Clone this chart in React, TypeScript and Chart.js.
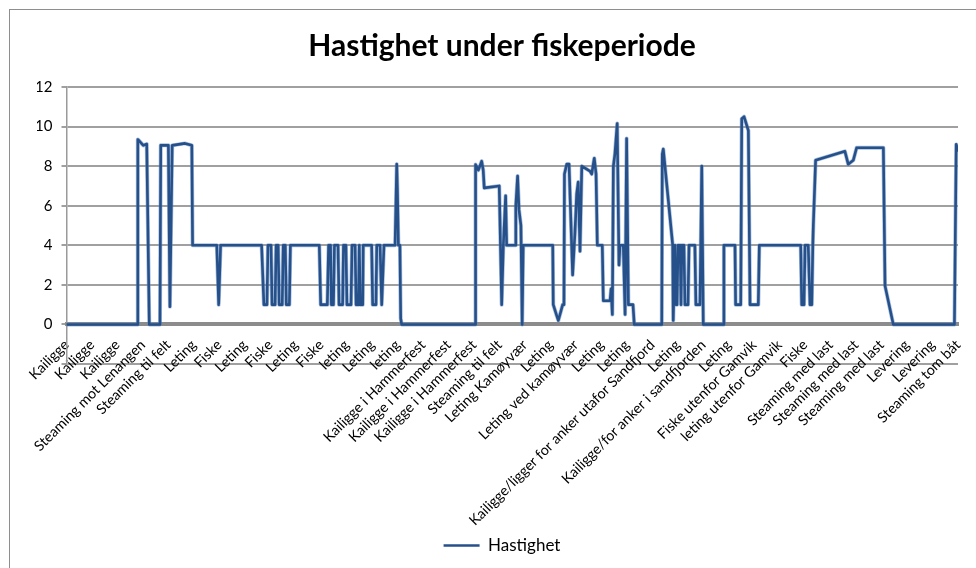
import { useEffect, useRef } from 'react';
import { Chart, registerables } from 'chart.js';

Chart.register(...registerables);

const FONT = 'Lato, "Open Sans", sans-serif';

const chartTitle = 'Hastighet under fiskeperiode';
const seriesName = 'Hastighet';

// Activity label shown every 10 samples along the x axis
const tickLabels = [
  'Kailigge', 'Kailigge', 'Kailigge', 'Steaming mot Lenangen', 'Steaming til felt',
  'Leting', 'Fiske', 'Leting', 'Fiske', 'Leting', 'Fiske', 'leting', 'Leting', 'leting',
  'Kailigge i Hammerfest', 'Kailigge i Hammerfest', 'Kailigge i Hammerfest',
  'Steaming til felt', 'Leting Kamøyvær', 'Leting', 'Leting ved kamøyvær', 'Leting', 'Leting',
  'Kailigge/ligger for anker utafor Sandfjord', 'Leting', 'Kailigge/for anker i sandfjorden',
  'Leting', 'Fiske utenfor Gamvik', 'leting utenfor Gamvik', 'Fiske',
  'Steaming med last', 'Steaming med last', 'Steaming med last',
  'Levering', 'Levering', 'Steaming tom båt',
];

const xMin = 0;
const xMax = 350;
const xStep = 10;

const yMin = -2;
const yMax = 12;
const yStep = 2;

// Sample position (row) of each recorded point
const sampleIndex = [
  0, 27.8, 28.0, 30.15, 31.5, 32.5, 36.7, 37.0, 40.0, 40.6, 41.5, 46.5, 49.2, 49.5, 59.0, 59.75, 60.5, 76.6,
  77.5, 78.7, 79.1, 80.3, 80.7, 81.9, 82.3, 83.1, 83.5, 84.7, 85.1, 85.9, 86.3, 87.5, 87.9,
  99.25, 99.8, 102.4, 102.9,
  103.65, 104.0, 104.8, 105.2, 106.6, 107.0, 108.4, 108.75, 109.7, 110.1, 111.7, 112.1, 113.3, 113.7, 114.6, 114.95, 115.15, 115.35, 116.3, 116.5,
  119.8, 120.2, 121.5, 121.8, 123.1, 123.75, 124.65, 129.0, 129.65, 129.9, 130.3, 130.9, 131.2, 131.6,
  160.4, 160.6, 161.7, 163.0, 163.6, 164.0, 169.9, 170.85, 171.5, 172.4, 172.8, 176.1, 176.4, 177.1, 177.65, 178.4, 178.9, 179.3,
  190.9, 191.1, 192.45, 193.1, 194.8, 195.3, 195.5, 196.4, 197.3, 198.7, 199.6, 200.3, 200.9, 201.6, 202.3, 205.5, 206.2, 207.2, 207.9, 208.4,
  210.35, 210.75, 213.4, 213.8, 214.3, 214.7, 215.3, 216.2, 216.9, 217.3, 218.6, 219.3, 219.9, 220.6, 222.4, 222.9,
  233.7, 233.9, 234.3, 238.0, 238.2, 238.9, 239.3, 239.7, 240.1, 240.9, 241.25, 241.6, 242.4, 242.8, 244.0, 244.4, 246.7, 247.1, 248.7, 249.4, 250.0,
  257.9, 258.1, 262.45, 262.7, 264.7, 265.1, 266.0, 267.7, 268.35, 271.6, 272.0,
  288.25, 288.65, 289.55, 289.95, 291.2, 291.9, 292.6, 293.0, 293.2, 294.1,
  305.6, 306.9, 308.9, 310.2, 320.7, 321.35, 324.6, 348.6, 349.3, 350,
];

// Speed (knots) at each sample above
const speed = [
  0, 0, 9.35, 9.05, 9.12, 0, 0, 9.05, 9.05, 0.9, 9.05, 9.15, 9.05, 4, 4, 1, 4, 4,
  1, 1, 4, 4, 1, 1, 4, 4, 1, 1, 4, 4, 1, 1, 4,
  4, 1, 1, 4,
  4, 1, 1, 4, 4, 1, 1, 4, 4, 1, 1, 4, 4, 1, 1, 4, 4, 1, 1, 4,
  4, 1, 1, 4, 4, 1, 4, 4, 8.1, 6.9, 4, 4, 0.3, 0,
  0, 8.08, 7.8, 8.25, 7.8, 6.9, 7.0, 1, 4, 6.5, 4, 4, 6.0, 7.5, 5.8, 5.0, 0, 4,
  4, 1, 0.45, 0.2, 1, 1, 7.6, 8.1, 8.1, 2.5, 4.6, 6.6, 7.2, 3.7, 8.0, 7.75, 7.6, 8.4, 7.6, 4,
  4, 1.2, 1.2, 1.8, 0.5, 8.0, 8.6, 10.15, 3.0, 4, 4, 0.5, 9.4, 1, 1, 0,
  0, 8.6, 8.86, 4, 0.2, 4, 1, 1, 4, 4, 1, 4, 4, 1, 1, 4, 4, 1, 1, 8, 0,
  0, 4, 4, 1, 1, 10.4, 10.5, 9.8, 1, 1, 4,
  4, 1, 1, 4, 4, 1, 1, 4, 5, 8.3,
  8.75, 8.1, 8.3, 8.93, 8.93, 1.95, 0, 0, 9.1, 8.8,
];

export default function App() {
  const ref = useRef<HTMLCanvasElement>(null);

  useEffect(() => {
    if (!ref.current) return;
    const points = sampleIndex.map((x, i) => ({ x, y: speed[i] }));
    const chart = new Chart(ref.current, {
      type: 'line',
      data: {
        datasets: [
          {
            label: seriesName,
            data: points,
            borderColor: '#26508A',
            backgroundColor: '#26508A',
            borderWidth: 2.6,
            pointRadius: 0,
            tension: 0,
            borderJoinStyle: 'round',
            borderCapStyle: 'round',
          },
          {
            label: 'shade',
            data: points,
            borderColor: 'rgba(96,136,192,0.55)',
            backgroundColor: 'rgba(96,136,192,0.55)',
            borderWidth: 4,
            pointRadius: 0,
            tension: 0,
            borderJoinStyle: 'round',
          },
        ],
      },
      options: {
        animation: false,
        responsive: false,
        events: [],
        layout: { padding: { left: 27, right: 9, top: 6, bottom: 4 } },
        plugins: {
          title: {
            display: true,
            text: chartTitle,
            color: '#000',
            font: { family: FONT, size: 30, weight: 'bold' },
            padding: { top: 12, bottom: 23 },
          },
          legend: {
            position: 'bottom',
            labels: {
              filter: (item: any) => item.datasetIndex === 0,
              usePointStyle: true,
              pointStyle: 'line',
              pointStyleWidth: 36,
              padding: 173,
              color: '#000',
              font: { family: FONT, size: 17 },
            },
          },
          tooltip: { enabled: false },
        },
        scales: {
          x: {
            type: 'linear',
            min: xMin,
            max: xMax,
            position: { y: 0 } as any,
            grid: { display: true, drawOnChartArea: false, drawTicks: false, color: 'rgba(0,0,0,0)' },
            border: { display: true, color: '#8C8C8C', width: 4 },
            ticks: {
              stepSize: xStep,
              maxTicksLimit: 100,
              autoSkip: false,
              minRotation: 45,
              maxRotation: 45,
              padding: 12,
              color: '#000',
              font: { family: FONT, size: 14.3 },
              callback: (_v: any, i: number) => tickLabels[i] ?? '',
            },
            afterFit: (s: any) => {
              s.paddingRight = 18;
            },
          },
          y: {
            min: yMin,
            max: yMax,
            grid: { color: '#A0A0A0', lineWidth: 2, tickLength: 5, drawTicks: true },
            border: { color: '#9A9A9A', width: 1.5 },
            ticks: {
              stepSize: yStep,
              padding: 9,
              color: '#000',
              font: { family: FONT, size: 15 },
              callback: (v: any) => (Number(v) < 0 ? '' : String(v)),
            },
            afterFit: (s: any) => {
              s.width = 29.5;
            },
          },
        },
      },
    });
    return () => chart.destroy();
  }, []);

  return (
    <div
      style={{
        position: 'absolute',
        left: 9,
        top: 9,
        width: 967,
        height: 559,
        boxSizing: 'border-box',
        borderTop: '1px solid #8E8E8E',
        borderLeft: '1px solid #8E8E8E',
        background: '#fff',
      }}
    >
      <canvas ref={ref} width={966} height={558} style={{ display: 'block', width: 966, height: 558 }} />
    </div>
  );
}
